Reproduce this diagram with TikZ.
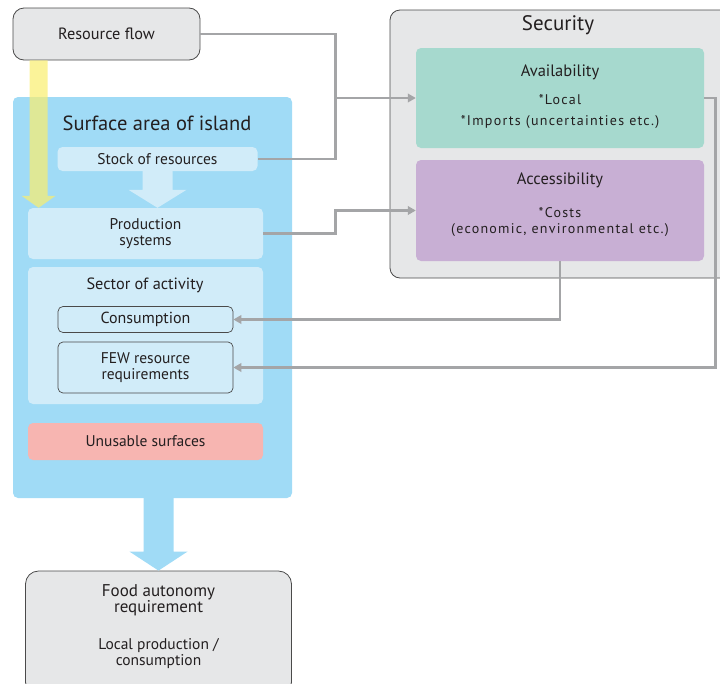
\documentclass[tikz,border=0pt]{standalone}
\usepackage{fontspec}
\setmainfont{PT Sans}
\newfontfamily\detailfont[LetterSpace=9]{PT Sans}
\usetikzlibrary{arrows.meta,calc}

\definecolor{txtgrey}{HTML}{231F20}
\definecolor{boxgrey}{HTML}{E6E7E8}
\definecolor{edgegrey}{HTML}{4A4A4A}
\definecolor{linkgrey}{HTML}{A4A5A7}
\definecolor{islandblue}{HTML}{A0DBF6}
\definecolor{paleblue}{HTML}{D1ECF9}
\definecolor{availgreen}{HTML}{A6D9CE}
\definecolor{accesspurple}{HTML}{C8AFD4}
\definecolor{unusablered}{HTML}{F7B5B1}
\definecolor{flowyellow}{HTML}{FAEE6E}

\begin{document}
\begin{tikzpicture}[x=1pt,y=-1pt,
    every node/.style={text=txtgrey, inner sep=0pt, align=center},
    greybox/.style={draw=edgegrey, fill=boxgrey, line width=0.8pt, rounded corners=11pt},
    panel/.style={fill=paleblue, rounded corners=5pt},
    subbox/.style={draw=edgegrey, fill=paleblue, line width=0.7pt, rounded corners=5pt},
    label/.style={font=\fontsize{15.5}{16}\selectfont},
    title/.style={font=\fontsize{20.5}{22}\selectfont},
    detail/.style={font=\detailfont\fontsize{14}{15}\selectfont},
    link/.style={draw=linkgrey, line width=2.1pt},
    linkarrow/.style={link, -{Triangle[length=8pt,width=8.5pt]}}]
    \def\fatarrow#1#2#3#4#5#6{
    \fill[#3] let \p1=(#1), \p2=(#2) in (\x1-#4,\y1) -- (\x1-#4,\y2+#6) -- (\x1-#5,\y2+#6) -- (\x1,\y2) -- (\x1+#5,\y2+#6) -- (\x1+#4,\y2+#6) -- (\x1+#4,\y1) -- cycle;
    }

    \useasboundingbox (0,0) rectangle (720,683);

    \node[greybox, minimum width=187pt, minimum height=52pt] (res) at (106.5,34) {};
    \node[label, font=\fontsize{16.3}{17}\selectfont] (restxt) at (res) {Resource flow};

    \node[greybox, rounded corners=10pt, minimum width=340pt, minimum height=268pt] (sec) at (560,144) {};
    \node[title, font=\fontsize{21}{22}\selectfont] (sectitle) at (558,25) {Security};
    \node[fill=availgreen, rounded corners=5pt, minimum width=288pt, minimum height=100pt] (avail) at (560,98) {};
    \node[label, font=\fontsize{16.5}{17}\selectfont] (availtitle) at (560,72) {Availability};
    \node[detail] (local) at (560,100) {*Local};
    \node[detail] (imports) at (560,122) {*Imports (uncertainties etc.)};
    \node[fill=accesspurple, rounded corners=5pt, minimum width=288pt, minimum height=101pt] (access) at (560,210.5) {};
    \node[label, font=\fontsize{16.5}{17}\selectfont] (accesstitle) at (560,180) {Accessibility};
    \node[detail] (costs) at (560,213) {*Costs};
    \node[detail] (econ) at (560,230) {(economic, environmental etc.)};

    \node[fill=islandblue, rounded corners=5pt, minimum width=279pt, minimum height=401pt] (surf) at (152.5,297.5) {};
    \node[title] (surftitle) at (157,123) {Surface area of island};
    \node[panel, label, minimum width=200pt, minimum height=24pt] (stock) at (157.5,159) {Stock of resources};
    \node[panel, label, minimum width=235pt, minimum height=51pt] (prod) at (145.5,233.5) {Production\\systems};
    \node[panel, minimum width=235pt, minimum height=137pt] (sector) at (145.5,335.5) {};
    \node[label, font=\fontsize{16.3}{17}\selectfont] (sectortitle) at (145,285) {Sector of activity};
    \node[subbox, label, font=\fontsize{16}{16}\selectfont, minimum width=175pt, minimum height=26pt] (cons) at (145.5,319.5) {Consumption};
    \node[subbox, label, minimum width=175pt, minimum height=51pt] (few) at (145.5,367.5) {FEW resource\\requirements};
    \node[fill=unusablered, rounded corners=5pt, label, minimum width=235pt, minimum height=37pt] (unusable) at (145.5,441.5) {Unusable surfaces};

    \node[greybox, rounded corners=13pt, minimum width=266pt, minimum height=124pt] (food) at (158.5,633) {};
    \node[label, font=\fontsize{17}{16.5}\selectfont] (foodtxt) at (158.5,600) {Food autonomy\\requirement};
    \node[label] (localtxt) at (158.5,654) {Local production /\\consumption};

    \fatarrow{stock.south}{prod.north}{paleblue}{15pt}{29pt}{18pt}
    \fatarrow{food.north |- surf.south}{food.north}{islandblue}{15pt}{29pt}{19pt}
    \fatarrow{$(res.south west)+(26,0)$}{prod.north}{flowyellow, opacity=0.7}{9pt}{17pt}{12pt}

    \coordinate (busA) at (335.5,0);
    \coordinate (busB) at (715.5,0);
    \draw[link] (res.east) -| (busA |- stock.east) -- (stock.east);
    \draw[linkarrow] (busA |- avail.west) -- (avail.west);
    \draw[linkarrow] (prod.east) -| (busA |- access.west) -- (access.west);
    \draw[linkarrow] (access.south) |- (cons.east);
    \draw[linkarrow] (avail.east) -| (busB |- few.east) -- (few.east);

\end{tikzpicture}
\end{document}
